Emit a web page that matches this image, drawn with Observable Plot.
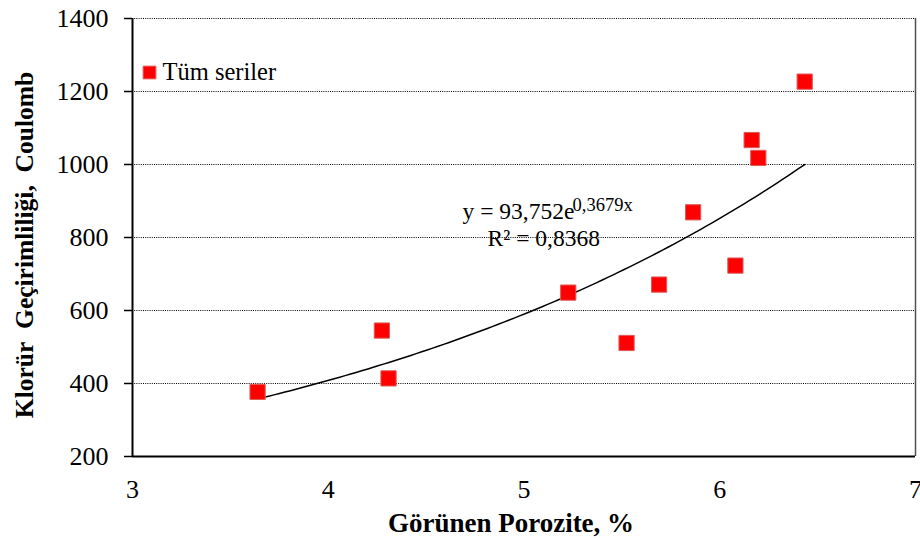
<!DOCTYPE html>
<html>
<head>
<meta charset="utf-8">
<script src="https://cdn.jsdelivr.net/npm/d3@7"></script>
<script src="https://cdn.jsdelivr.net/npm/@observablehq/plot@0.6"></script>
<style>
  body { margin: 0; background: #fff; }
  #chart svg { display: block; }
</style>
</head>
<body>
<div id="chart"></div>
<script>
// Apparent porosity (%) vs. chloride permeability (Coulomb), all series
const porosity = [3.639, 4.274, 4.308, 5.226, 5.524, 5.690, 5.864, 6.080, 6.163, 6.197, 6.434];
const chargePassed = [377, 545, 414, 649, 511, 671, 869, 723, 1067, 1018, 1227];

// Axis ticks
const xTicks = [3, 4, 5, 6, 7];
const yTicks = [200, 400, 600, 800, 1000, 1200, 1400];
const gridLines = [400, 600, 800, 1000, 1200, 1400];

// Exponential trendline y = a·e^(b·x), as stated in the annotation
const fitA = 93.752;
const fitB = 0.3679;
const equationMain = "y = 93,752e";
const equationExp = "0,3679x";
const rSquaredText = "R² = 0,8368";

// Texts
const seriesName = "Tüm seriler";
const xTitle = "Görünen Porozite, %";
const yTitle = "Klorür\u00a0 Geçirimliliği,\u00a0 Coulomb";

const points = porosity.map((p, i) => ({porosity: p, charge: chargePassed[i]}));

// Trendline sampled over the observed porosity range
const xMin = d3.min(porosity), xMax = d3.max(porosity);
const trend = d3.range(0, 101).map(i => {
  const x = xMin + (xMax - xMin) * i / 100;
  return {porosity: x, charge: fitA * Math.exp(fitB * x)};
});

const serif = "'Liberation Serif', 'Times New Roman', serif";

const chart = Plot.plot({
  width: 920,
  height: 540,
  marginTop: 18,
  marginRight: 5,
  marginBottom: 84,
  marginLeft: 132,
  style: {fontFamily: serif, fontSize: "26px", color: "#000", background: "#fff"},
  x: {domain: [3, 7]},
  y: {domain: [200, 1400]},
  marks: [
    // dotted horizontal gridlines
    Plot.ruleY(gridLines, {stroke: "#000", strokeWidth: 1, strokeDasharray: "1,1.2"}),
    // plot area right border
    Plot.ruleX([7], {stroke: "#505050", strokeWidth: 1.5}),
    // axis lines
    Plot.ruleX([3], {stroke: "#000", strokeWidth: 2}),
    Plot.ruleY([200], {stroke: "#000", strokeWidth: 2}),
    Plot.axisY(yTicks, {
      tickSize: 8, tickPadding: 16, strokeWidth: 1.5,
      tickFormat: d => String(d), label: null, fontSize: 26
    }),
    Plot.axisX(xTicks, {
      tickSize: 0, tickPadding: 23.5,
      tickFormat: d => String(d), label: null, fontSize: 26
    }),
    // trendline
    Plot.line(trend, {x: "porosity", y: "charge", stroke: "#000", strokeWidth: 1.5}),
    // observations
    Plot.dot(points, {
      x: "porosity", y: "charge", symbol: "square", r: 8.6,
      fill: "#ff0000", stroke: "#e05a5a", strokeWidth: 1
    }),
    // legend
    Plot.dot([seriesName], {
      frameAnchor: "top-left", dx: 17, dy: 54, symbol: "square", r: 7.2,
      fill: "#ff0000", stroke: "#e05a5a", strokeWidth: 1
    }),
    Plot.text([seriesName], {
      frameAnchor: "top-left", dx: 30, dy: 54, text: d => d,
      textAnchor: "start", lineAnchor: "middle", fontSize: 24.5
    }),
    // trendline equation and R²
    Plot.text([equationMain], {
      x: () => 4.686, y: () => 872.6, text: d => d,
      textAnchor: "start", lineAnchor: "middle", fontSize: 23.5
    }),
    Plot.text([equationExp], {
      x: () => 4.686, y: () => 872.6, text: d => d, dx: 110, dy: -6,
      textAnchor: "start", lineAnchor: "middle", fontSize: 18.5
    }),
    Plot.text([rSquaredText], {
      x: () => 4.814, y: () => 798.6, text: d => d,
      textAnchor: "start", lineAnchor: "middle", fontSize: 23.5
    }),
    // axis titles
    Plot.text([xTitle], {
      frameAnchor: "bottom", dx: -13, dy: 67, text: d => d,
      textAnchor: "middle", lineAnchor: "middle", fontSize: 27, fontWeight: "bold"
    }),
    Plot.text([yTitle], {
      frameAnchor: "left", dx: -108, dy: 7.5, rotate: -90, text: d => d,
      textAnchor: "middle", lineAnchor: "middle", fontSize: 25.5, fontWeight: "bold"
    })
  ]
});

document.getElementById("chart").appendChild(chart);
</script>
</body>
</html>
